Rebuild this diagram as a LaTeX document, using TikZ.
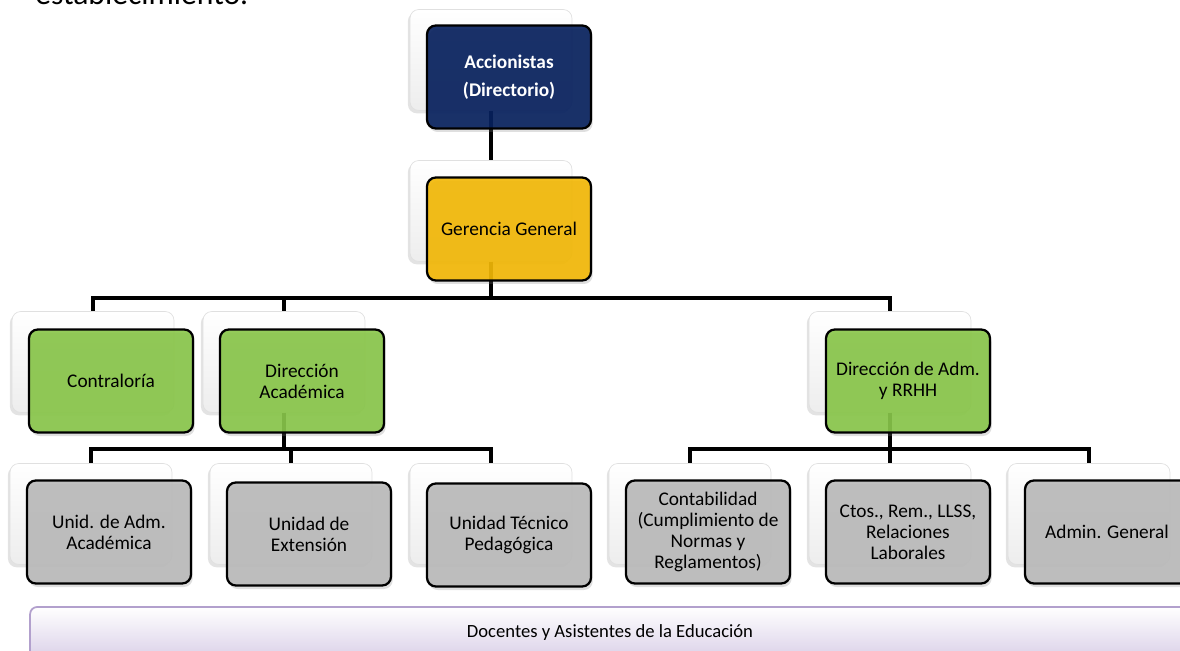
\documentclass[tikz,border=0pt]{standalone}
\usepackage{fontspec}
\setmainfont{Carlito}
\usetikzlibrary{positioning,calc,shadows}
\definecolor{navybox}{RGB}{4,30,92}
\definecolor{goldbox}{RGB}{243,184,4}
\definecolor{greenbox}{RGB}{136,198,72}
\definecolor{greybox}{RGB}{186,186,186}
\definecolor{lilacline}{RGB}{178,160,205}
\definecolor{lilacfill}{RGB}{218,208,232}
\tikzset{
	backbox/.style={rectangle,rounded corners=5pt,minimum width=3.24cm,minimum height=2.02cm,draw=black!12,top color=white,bottom color=black!7,drop shadow={shadow xshift=-1.2pt,shadow yshift=-1.6pt,opacity=0.22}},
	frontbox/.style={rectangle,rounded corners=5pt,minimum width=3.28cm,minimum height=2.06cm,draw=black,line width=1.3pt,fill opacity=0.9,text opacity=1,align=center,font=\fontsize{11}{11.9}\selectfont,drop shadow={shadow xshift=1pt,shadow yshift=-2pt,opacity=0.25}},
	topbox/.style={frontbox,fill=navybox,text=white,font=\fontsize{11}{16}\selectfont\bfseries},
	conn/.style={line width=2.5pt,color=black},
	band/.style={rectangle,rounded corners=4pt,minimum width=23.2cm,minimum height=1.04cm,draw=lilacline,line width=1pt,top color=white,bottom color=lilacfill,font=\fontsize{10.6}{11.8}\selectfont}
}

\begin{document}
\begin{tikzpicture}[x=0.02cm,y=-0.02cm]
		\useasboundingbox (0,0) rectangle (1180,651);
		\clip (0,0) rectangle (1180,651);
		
		\node[anchor=base west,inner sep=0,font=\fontsize{18}{20}\selectfont] (intro) at (35,5) {establecimiento.};
		
		%%% back boxes
		\node[backbox] (accb) at (491,60) {};
		\node[backbox] (gerb) at (491,211) {};
		\node[backbox] (conb) at (93,362) {};
		\node[backbox] (diab) at (284,362) {};
		\node[backbox] (dadb) at (890,362) {};
		\node[backbox] (uadb) at (91,514) {};
		\node[backbox] (extb) at (291,514) {};
		\node[backbox] (tecb) at (491,514) {};
		\node[backbox] (cntb) at (690,514) {};
		\node[backbox] (ctob) at (890,514) {};
		\node[backbox] (admb) at (1089,514) {};
		
		\coordinate (bar1) at (0,298);
		\coordinate (bar2) at (0,449);
		
		%%% connectors
		\draw[conn] (accb.south) -- (gerb.north);
		\foreach \n in {conb,diab,dadb}
			\draw[conn] (gerb.south) -- (gerb.south |- bar1) -| (\n.north);
		\foreach \n in {uadb,extb,tecb}
			\draw[conn] (diab.south) -- (diab.south |- bar2) -| (\n.north);
		\foreach \n in {cntb,ctob,admb}
			\draw[conn] (dadb.south) -- (dadb.south |- bar2) -| (\n.north);
		
		%%% front boxes
		\node[topbox] (acc) at ($(accb)+(18,17)$) {Accionistas\\(Directorio)};
		\node[frontbox,fill=goldbox] (ger) at ($(gerb)+(18,18)$) {Gerencia General};
		\node[frontbox,fill=greenbox] (con) at ($(conb)+(18,19)$) {Contralor\'ia};
		\node[frontbox,fill=greenbox] (dia) at ($(diab)+(18,19)$) {Direcci\'on\\Acad\'emica};
		\node[frontbox,fill=greenbox] (dad) at ($(dadb)+(18,19)$) {Direcci\'on de Adm.\\y RRHH};
		\node[frontbox,fill=greybox] (uad) at ($(uadb)+(18,18)$) {Unid. de Adm.\\Acad\'emica};
		\node[frontbox,fill=greybox] (ext) at ($(extb)+(18,20)$) {Unidad de\\Extensi\'on};
		\node[frontbox,fill=greybox] (tec) at ($(tecb)+(18,21)$) {Unidad T\'ecnico\\Pedag\'ogica};
		\node[frontbox,fill=greybox] (cnt) at ($(cntb)+(18,18)$) {Contabilidad\\(Cumplimiento de\\Normas y\\Reglamentos)};
		\node[frontbox,fill=greybox] (cto) at ($(ctob)+(18,18)$) {Ctos., Rem., LLSS,\\Relaciones\\Laborales};
		\node[frontbox,fill=greybox] (adm) at ($(admb)+(18,18)$) {Admin. General};
		
		\node[band] (docentes) at (610,633) {Docentes y Asistentes de la Educaci\'on};
	\end{tikzpicture}
\end{document}
